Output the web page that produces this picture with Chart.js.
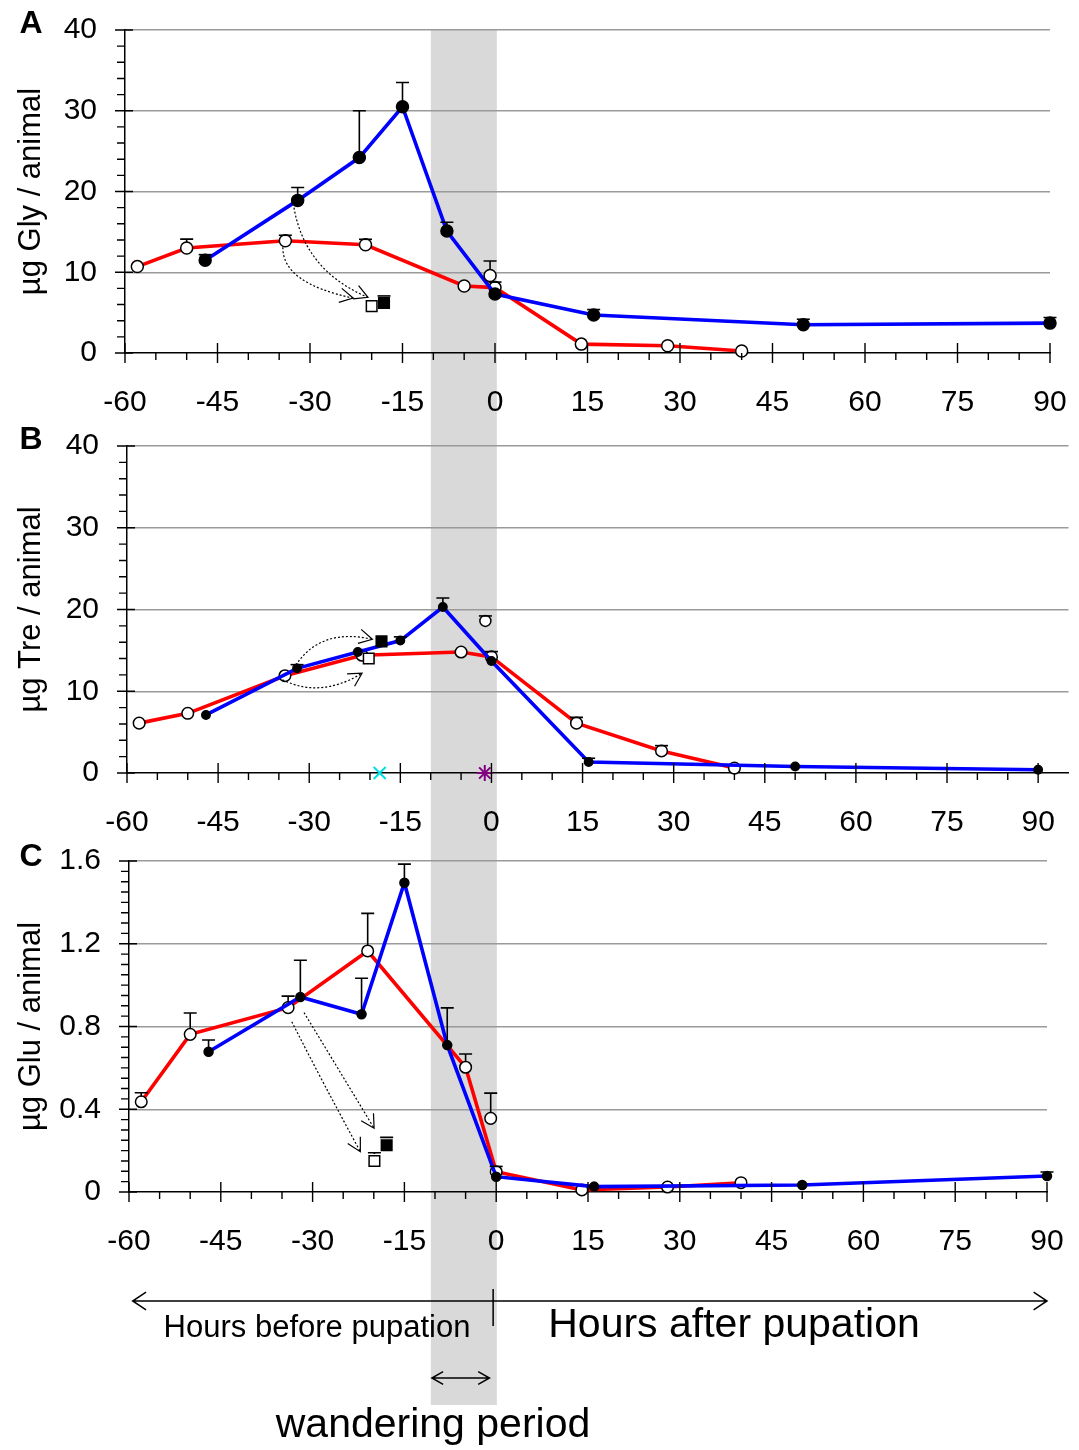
<!DOCTYPE html>
<html><head><meta charset="utf-8">
<script src="https://cdn.jsdelivr.net/npm/chart.js@4.4.1/dist/chart.umd.min.js"></script>
<style>
html,body{margin:0;padding:0;background:#fff;}
#wrap{position:relative;width:1079px;height:1450px;overflow:hidden;}
canvas{position:absolute;left:0;}
</style></head><body>
<div id="wrap">
<canvas id="cA" width="1079" height="420" style="top:0px"></canvas>
<canvas id="cB" width="1079" height="420" style="top:420px"></canvas>
<canvas id="cC" width="1079" height="610" style="top:840px"></canvas>
</div>
<script>
// ---------------- tick labels ----------------
const xTickLabels = ['-60','-45','-30','-15','0','15','30','45','60','75','90'];
const yTickLabelsAB = ['0','10','20','30','40'];
const yTickLabelsC = ['0','0.4','0.8','1.2','1.6'];

// ---------------- Panel A : µg Gly / animal ----------------
const hoursRedA   = [-58, -50, -34, -21, -5, 0, 14, 28, 40];
const glyRedA     = [10.7, 13.0, 13.9, 13.4, 8.3, 8.1, 1.1, 0.9, 0.25];
const glyRedAtop  = [null, 14.1, 14.3, 13.8, null, 8.6, null, null, null];
const hoursBlueA  = [-47, -32, -22, -15, -7.8, 0, 16, 50, 90];
const glyBlueA    = [11.5, 18.9, 24.2, 30.5, 15.1, 7.3, 4.7, 3.5, 3.7];
const glyBlueAtop = [11.9, 20.5, 30.0, 33.5, 16.2, null, 5.1, 3.7, 4.4];
const hoursOpenExtraA = [-0.8], glyOpenExtraA = [9.6], glyOpenExtraAtop = [11.4];
const hoursOpenSqA = [-20], glyOpenSqA = [5.8];
const hoursFillSqA = [-18], glyFillSqA = [6.2], glyFillSqAtop = [6.5];

// ---------------- Panel B : µg Tre / animal ----------------
const hoursRedB   = [-58, -50, -34, -21.3, -5, 0, 14, 28, 40];
const treRedB     = [6.1, 7.3, 11.9, 14.4, 14.8, 14.2, 6.1, 2.7, 0.6];
const treRedBtop  = [null, null, null, null, null, 14.7, 6.8, 3.3, null];
const hoursBlueB  = [-47, -32, -22, -15, -8, 0, 16, 50, 90];
const treBlueB    = [7.1, 12.8, 14.8, 16.2, 20.3, 13.7, 1.35, 0.8, 0.4];
const treBlueBtop = [null, 13.1, null, 16.6, 21.4, null, 1.7, null, null];
const hoursOpenExtraB = [-1.0], treOpenExtraB = [18.6], treOpenExtraBtop = [19.0];
const hoursOpenSqB = [-20.2], treOpenSqB = [14.0];
const hoursFillSqB = [-18.1], treFillSqB = [16.1];
const hoursCrossB = [-18.4], treCrossB = [0];
const hoursStarB = [-1.1], treStarB = [0];

// ---------------- Panel C : µg Glu / animal ----------------
const hoursRedC   = [-58, -50, -34, -21, -5, 0, 14, 28, 40];
const gluRedC     = [0.436, 0.762, 0.891, 1.165, 0.603, 0.098, 0.01, 0.024, 0.045];
const gluRedCtop  = [0.48, 0.865, 0.947, 1.347, 0.667, 0.11, null, null, null];
const hoursBlueC  = [-47, -32, -22, -15, -8, 0, 16, 50, 90];
const gluBlueC    = [0.678, 0.943, 0.859, 1.495, 0.71, 0.074, 0.026, 0.034, 0.077];
const gluBlueCtop = [0.735, 1.12, 1.033, 1.585, 0.89, null, null, null, 0.097];
const hoursOpenExtraC = [-0.9], gluOpenExtraC = [0.356], gluOpenExtraCtop = [0.478];
const hoursOpenSqC = [-19.9], gluOpenSqC = [0.15], gluOpenSqCtop = [0.19];
const hoursFillSqC = [-17.9], gluFillSqC = [0.226], gluFillSqCtop = [0.264];

// wandering period (hours, on panel A's time axis; one band runs through all panels)
const wanderingBand = [-10.4, 0.3];

// dotted transfer arrows: start, control, end in data units
const arrowsA = [
  {s:[-34.4, 13.1], c:[-34.5, 8.65], e:[-23.0, 6.8]},
  {s:[-32.6, 18.0], c:[-30.8, 10.15], e:[-20.6, 6.9]}
];
const arrowsB = [
  {s:[-32.2, 13.2], c:[-28.1, 17.8], e:[-19.6, 16.35]},
  {s:[-34.4, 11.4], c:[-28.15, 9.1], e:[-21.3, 12.2]}
];
const arrowsC = [
  {s:[-33.4, 0.823], c:[-28.2, 0.52], e:[-22.2, 0.195]},
  {s:[-31.4, 0.867], c:[-25.9, 0.60], e:[-19.95, 0.308]}
];

const FONT = '"Liberation Sans", Arial, Helvetica, sans-serif';
let bandPx = null;

function pts(xs, ys) { return xs.map((x, i) => ({x: x, y: ys[i]})); }

function lineDS(label, xs, ys, top, color, filled, radius, order) {
  return { label, data: pts(xs, ys), errTop: top, borderColor: color, borderWidth: 3.6,
    pointStyle: 'circle', pointRadius: radius, pointBackgroundColor: filled ? '#000' : '#fff',
    pointBorderColor: '#000', pointBorderWidth: 1.5, tension: 0, clip: false, order, showLine: true, fill: false };
}
function markDS(label, xs, ys, top, style, fill, stroke, radius, bw) {
  return { label, data: pts(xs, ys), errTop: top, showLine: false, pointStyle: style,
    pointRadius: radius, pointBackgroundColor: fill, pointBorderColor: stroke, pointBorderWidth: bw,
    borderColor: stroke, clip: false, order: 0 };
}

function chevron(ctx, x, y, ang, len, spread) {
  ctx.moveTo(x - len * Math.cos(ang - spread), y - len * Math.sin(ang - spread));
  ctx.lineTo(x, y);
  ctx.lineTo(x - len * Math.cos(ang + spread), y - len * Math.sin(ang + spread));
}

const bandPlugin = {
  id: 'band',
  beforeDraw(chart, args, o) {
    const ctx = chart.ctx, xs = chart.scales.x;
    if (o.master || !bandPx) {
      bandPx = [xs.getPixelForValue(wanderingBand[0]), xs.getPixelForValue(wanderingBand[1])];
    }
    const top = o.fromTop ? chart.chartArea.top : 0;
    const bottom = (o.bottom != null) ? o.bottom : chart.height;
    ctx.save(); ctx.fillStyle = '#d9d9d9'; ctx.fillRect(bandPx[0], top, bandPx[1] - bandPx[0], bottom - top); ctx.restore();
  }
};

const errPlugin = {
  id: 'errbars',
  afterDatasetsDraw(chart) {
    const ctx = chart.ctx, ys = chart.scales.y;
    ctx.save(); ctx.strokeStyle = '#000'; ctx.lineWidth = 1.6;
    chart.data.datasets.forEach((ds, i) => {
      if (!ds.errTop) return;
      const meta = chart.getDatasetMeta(i);
      meta.data.forEach((el, j) => {
        const t = ds.errTop[j];
        if (t == null) return;
        const r = ds.pointRadius;
        const start = el.y - r + 0.5;
        const top = Math.min(ys.getPixelForValue(t), start);
        ctx.beginPath();
        ctx.moveTo(el.x, start); ctx.lineTo(el.x, top);
        ctx.moveTo(el.x - 6.5, top); ctx.lineTo(el.x + 6.5, top);
        ctx.stroke();
      });
    });
    ctx.restore();
  }
};

const arrowPlugin = {
  id: 'arrows',
  afterDatasetsDraw(chart, args, o) {
    const list = (o && o.list) || [];
    const ctx = chart.ctx, xs = chart.scales.x, ys = chart.scales.y;
    ctx.save(); ctx.strokeStyle = '#000'; ctx.lineWidth = 1.2;
    list.forEach(a => {
      const S = [xs.getPixelForValue(a.s[0]), ys.getPixelForValue(a.s[1])];
      const C = [xs.getPixelForValue(a.c[0]), ys.getPixelForValue(a.c[1])];
      const E = [xs.getPixelForValue(a.e[0]), ys.getPixelForValue(a.e[1])];
      ctx.setLineDash([2, 2]);
      ctx.beginPath(); ctx.moveTo(S[0], S[1]); ctx.quadraticCurveTo(C[0], C[1], E[0], E[1]); ctx.stroke();
      ctx.setLineDash([]);
      const ang = Math.atan2(E[1] - C[1], E[0] - C[0]);
      ctx.beginPath(); chevron(ctx, E[0], E[1], ang, 15, 0.5); ctx.stroke();
    });
    ctx.restore();
  }
};

const tickPlugin = {
  id: 'ticks2',
  afterDraw(chart, args, o) {
    const ctx = chart.ctx, xs = chart.scales.x, ys = chart.scales.y;
    const L = chart.chartArea.left, B = chart.chartArea.bottom;
    ctx.save(); ctx.strokeStyle = '#000'; ctx.lineWidth = 1.4; ctx.beginPath();
    for (let i = 0; i <= 30; i++) {
      const p = xs.getPixelForValue(-60 + i * 5);
      if (i % 3 === 0) { ctx.moveTo(p, B - 10); ctx.lineTo(p, B + 10); }
      else { ctx.moveTo(p, B); ctx.lineTo(p, B + 7); }
    }
    for (let i = 0; i <= o.yN; i++) {
      const p = ys.getPixelForValue(i * o.yStep);
      if (i % o.yEvery === 0) { ctx.moveTo(L - 10, p); ctx.lineTo(L + 8, p); }
      else { ctx.moveTo(L - 8, p); ctx.lineTo(L, p); }
    }
    ctx.stroke(); ctx.restore();
  }
};

const letterPlugin = {
  id: 'letter',
  afterDraw(chart, args, o) {
    const ctx = chart.ctx;
    ctx.save(); ctx.fillStyle = '#000'; ctx.font = 'bold 32px ' + FONT;
    ctx.textAlign = 'center'; ctx.textBaseline = 'middle';
    ctx.fillText(o.text, o.x, o.y); ctx.restore();
  }
};

const footerPlugin = {
  id: 'footer',
  afterDraw(chart, args, o) {
    if (!o || !o.show) return;
    const ctx = chart.ctx, xs = chart.scales.x;
    const xl = xs.getPixelForValue(o.from), xr = xs.getPixelForValue(o.to), xd = xs.getPixelForValue(o.divider);
    ctx.save(); ctx.strokeStyle = '#000'; ctx.lineWidth = 1.5;
    ctx.beginPath();
    ctx.moveTo(xl, o.arrowY); ctx.lineTo(xr, o.arrowY);
    chevron(ctx, xl, o.arrowY, Math.PI, 16, 0.58);
    chevron(ctx, xr, o.arrowY, 0, 16, 0.58);
    ctx.moveTo(xd, o.arrowY - 12); ctx.lineTo(xd, o.arrowY + 25);
    ctx.stroke();
    const w0 = bandPx ? bandPx[0] + 1 : xs.getPixelForValue(o.wFrom);
    const w1 = xs.getPixelForValue(o.wTo);
    ctx.beginPath();
    ctx.moveTo(w0, o.wY); ctx.lineTo(w1, o.wY);
    chevron(ctx, w0, o.wY, Math.PI, 13, 0.52);
    chevron(ctx, w1, o.wY, 0, 13, 0.52);
    ctx.stroke();
    ctx.fillStyle = '#000'; ctx.textAlign = 'center'; ctx.textBaseline = 'alphabetic';
    ctx.font = '31px ' + FONT; ctx.fillText(o.before, o.beforeX, o.textY);
    ctx.font = '41px ' + FONT; ctx.fillText(o.after, o.afterX, o.textY);
    ctx.font = '41px ' + FONT; ctx.fillText(o.wander, o.wanderX, o.wanderY);
    ctx.restore();
  }
};

function makePanel(id, o) {
  return new Chart(document.getElementById(id), {
    type: 'line',
    data: { datasets: o.datasets },
    options: {
      responsive: false, animation: false, devicePixelRatio: 1, events: [],
      layout: { padding: o.padding },
      plugins: {
        legend: { display: false }, tooltip: { enabled: false },
        band: o.band, arrows: { list: o.arrows }, ticks2: o.ticks, letter: o.letter, footer: o.footer || { show: false }
      },
      scales: {
        x: {
          type: 'linear', min: -60, max: o.xMax,
          afterBuildTicks: s => { s.ticks = s.ticks.filter(t => Math.abs(t.value % 15) < 1e-6 && t.value <= 90); },
          afterFit: s => { s.height = o.xHeight; s.paddingLeft = 0; s.paddingRight = 0; },
          ticks: { stepSize: 15, includeBounds: false, autoSkip: false, maxRotation: 0, minRotation: 0, padding: 32, color: '#000',
                   font: { family: FONT, size: 30 }, callback: (v, i) => xTickLabels[i] },
          grid: { display: false, drawTicks: false },
          border: { display: true, color: '#000', width: 1.5 }
        },
        y: {
          type: 'linear', min: 0, max: o.yMax,
          afterFit: s => { s.width = o.yWidth; s.paddingTop = 0; s.paddingBottom = 0; },
          ticks: { stepSize: o.yStepMajor, padding: 28, color: '#000', font: { family: FONT, size: 30 },
                   callback: (v, i) => o.yLabels[i] },
          grid: { drawTicks: false, lineWidth: 1.5,
                  color: c => (c.tick && c.tick.value === 0) ? 'rgba(0,0,0,0)' : '#9a9a9a' },
          border: { display: true, color: '#000', width: 1.5 },
          title: { display: true, text: o.yTitle, color: '#000', font: { family: FONT, size: 31 }, padding: { top: 5, bottom: 0 } }
        }
      }
    },
    plugins: [bandPlugin, errPlugin, arrowPlugin, tickPlugin, letterPlugin, footerPlugin]
  });
}

makePanel('cA', {
  datasets: [
    markDS('open square', hoursOpenSqA, glyOpenSqA, null, 'rect', '#fff', '#000', 7.5, 1.5),
    markDS('filled square', hoursFillSqA, glyFillSqA, glyFillSqAtop, 'rect', '#000', '#000', 7.5, 1.5),
    markDS('extra', hoursOpenExtraA, glyOpenExtraA, glyOpenExtraAtop, 'circle', '#fff', '#000', 6, 1.5),
    lineDS('blue', hoursBlueA, glyBlueA, glyBlueAtop, '#0000ff', true, 6, 2),
    lineDS('red', hoursRedA, glyRedA, glyRedAtop, '#ff0000', false, 6, 3)
  ],
  padding: { left: 8, top: 30, right: 29, bottom: 0 },
  xMax: 90, xHeight: 67, yMax: 40, yStepMajor: 10, yWidth: 117, yLabels: yTickLabelsAB,
  yTitle: 'µg Gly / animal',
  band: { fromTop: true, master: true }, arrows: arrowsA,
  ticks: { yN: 20, yStep: 2, yEvery: 5 },
  letter: { text: 'A', x: 31, y: 24 }
});

makePanel('cB', {
  datasets: [
    markDS('cross', hoursCrossB, treCrossB, null, 'crossRot', '#00e0e0', '#00e0e0', 8.5, 2),
    markDS('star', hoursStarB, treStarB, null, 'star', '#800080', '#800080', 8, 2),
    markDS('open square', hoursOpenSqB, treOpenSqB, null, 'rect', '#fff', '#000', 7.5, 1.5),
    markDS('filled square', hoursFillSqB, treFillSqB, null, 'rect', '#000', '#000', 7.5, 1.5),
    markDS('extra', hoursOpenExtraB, treOpenExtraB, treOpenExtraBtop, 'circle', '#fff', '#000', 5.5, 1.5),
    lineDS('blue', hoursBlueB, treBlueB, treBlueBtop, '#0000ff', true, 4.2, 2),
    lineDS('red', hoursRedB, treRedB, treRedBtop, '#ff0000', false, 5.8, 3)
  ],
  padding: { left: 8, top: 26, right: 7, bottom: 0 },
  xMax: 95, xHeight: 67, yMax: 40, yStepMajor: 10, yWidth: 119, yLabels: yTickLabelsAB,
  yTitle: 'µg Tre / animal',
  band: {}, arrows: arrowsB,
  ticks: { yN: 20, yStep: 2, yEvery: 5 },
  letter: { text: 'B', x: 31, y: 20 }
});

makePanel('cC', {
  datasets: [
    markDS('open square', hoursOpenSqC, gluOpenSqC, gluOpenSqCtop, 'rect', '#fff', '#000', 7.5, 1.5),
    markDS('filled square', hoursFillSqC, gluFillSqC, gluFillSqCtop, 'rect', '#000', '#000', 7.5, 1.5),
    markDS('extra', hoursOpenExtraC, gluOpenExtraC, gluOpenExtraCtop, 'circle', '#fff', '#000', 5.8, 1.5),
    lineDS('blue', hoursBlueC, gluBlueC, gluBlueCtop, '#0000ff', true, 4.5, 2),
    lineDS('red', hoursRedC, gluRedC, gluRedCtop, '#ff0000', false, 5.8, 3)
  ],
  padding: { left: 8, top: 21, right: 32, bottom: 0 },
  xMax: 90, xHeight: 258, yMax: 1.6, yStepMajor: 0.4, yWidth: 121, yLabels: yTickLabelsC,
  yTitle: 'µg Glu / animal',
  band: { bottom: 565 }, arrows: arrowsC,
  ticks: { yN: 32, yStep: 0.05, yEvery: 8 },
  letter: { text: 'C', x: 31, y: 17 },
  footer: { show: true, from: -59.4, to: 90, divider: -0.5, arrowY: 461,
            wFrom: -10.4, wTo: -1.1, wY: 538,
            before: 'Hours before pupation', beforeX: 317,
            after: 'Hours after pupation', afterX: 734, textY: 497,
            wander: 'wandering period', wanderX: 433, wanderY: 597 }
});
</script>
</body></html>
